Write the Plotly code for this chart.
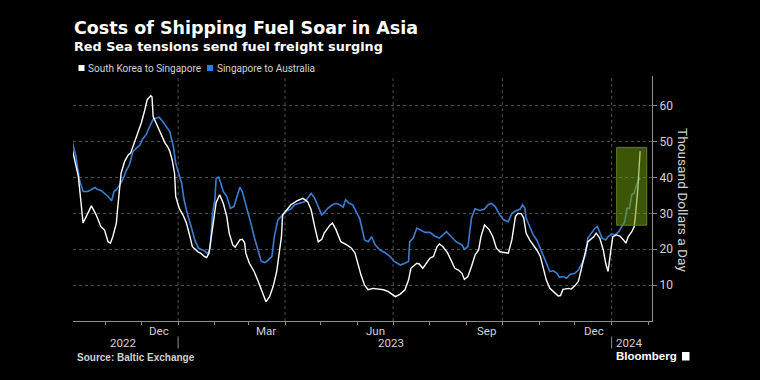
import plotly.graph_objects as go

kor_dates = [
    "2022-10-04", "2022-10-09", "2022-10-11", "2022-10-13", "2022-10-20", "2022-10-24", "2022-10-28", "2022-10-31",
    "2022-11-03", "2022-11-05", "2022-11-07", "2022-11-10", "2022-11-11", "2022-11-14", "2022-11-17", "2022-11-20",
    "2022-11-22", "2022-11-25", "2022-11-28", "2022-12-01", "2022-12-04", "2022-12-06", "2022-12-09", "2022-12-10",
    "2022-12-11", "2022-12-13", "2022-12-15", "2022-12-18", "2022-12-21", "2022-12-23", "2022-12-25", "2022-12-27",
    "2022-12-29", "2022-12-30", "2023-01-02", "2023-01-05", "2023-01-08", "2023-01-11", "2023-01-13", "2023-01-18",
    "2023-01-20", "2023-01-23", "2023-01-25", "2023-01-27", "2023-01-30", "2023-02-02", "2023-02-05", "2023-02-08",
    "2023-02-11", "2023-02-13", "2023-02-16", "2023-02-18", "2023-02-22", "2023-02-24", "2023-02-26", "2023-02-27",
    "2023-03-02", "2023-03-06", "2023-03-09", "2023-03-12", "2023-03-15", "2023-03-16", "2023-03-19", "2023-03-22",
    "2023-03-25", "2023-03-27", "2023-03-29", "2023-03-30", "2023-04-02", "2023-04-06", "2023-04-11", "2023-04-16",
    "2023-04-20", "2023-04-23", "2023-04-26", "2023-04-29", "2023-05-02", "2023-05-04", "2023-05-09", "2023-05-11",
    "2023-05-14", "2023-05-18", "2023-05-23", "2023-05-27", "2023-05-30", "2023-06-02", "2023-06-04", "2023-06-07",
    "2023-06-10", "2023-06-14", "2023-06-18", "2023-06-23", "2023-06-27", "2023-06-30", "2023-07-03", "2023-07-07",
    "2023-07-11", "2023-07-14", "2023-07-16", "2023-07-21", "2023-07-23", "2023-07-26", "2023-07-29", "2023-08-01",
    "2023-08-04", "2023-08-07", "2023-08-09", "2023-08-12", "2023-08-16", "2023-08-19", "2023-08-22", "2023-08-25",
    "2023-08-28", "2023-08-30", "2023-09-02", "2023-09-05", "2023-09-08", "2023-09-11", "2023-09-13", "2023-09-16",
    "2023-09-20", "2023-09-23", "2023-09-26", "2023-09-29", "2023-10-03", "2023-10-06", "2023-10-09", "2023-10-12",
    "2023-10-14", "2023-10-17", "2023-10-19", "2023-10-21", "2023-10-24", "2023-10-27", "2023-10-30", "2023-11-02",
    "2023-11-04", "2023-11-07", "2023-11-10", "2023-11-14", "2023-11-17", "2023-11-19", "2023-11-21", "2023-11-26",
    "2023-11-28", "2023-12-01", "2023-12-04", "2023-12-07", "2023-12-10", "2023-12-12", "2023-12-17", "2023-12-19",
    "2023-12-22", "2023-12-25", "2023-12-27", "2023-12-29", "2023-12-31", "2024-01-02", "2024-01-05", "2024-01-08",
    "2024-01-11", "2024-01-13", "2024-01-15", "2024-01-18", "2024-01-20", "2024-01-21", "2024-01-23", "2024-01-24",
    "2024-01-25",
]
kor_vals = [
    47.7, 40.3, 33.8, 27.3, 32.1, 29.6, 26.3, 25.4,
    22.1, 21.7, 23.5, 27.3, 31.0, 41.2, 44.5, 46.3,
    46.8, 49.6, 51.9, 55.2, 58.9, 61.7, 62.8, 62.5,
    57.0, 55.6, 54.2, 51.9, 49.6, 48.7, 47.3, 44.9,
    41.2, 34.7, 31.4, 29.6, 27.3, 23.5, 20.7, 19.2,
    18.9, 18.0, 17.7, 18.9, 26.0, 33.0, 35.2, 32.8,
    29.1, 24.5, 21.2, 20.6, 22.6, 22.8, 21.8, 18.9,
    16.1, 13.8, 11.4, 8.7, 5.9, 5.4, 6.8, 9.6,
    13.8, 18.0, 23.5, 29.6, 30.8, 32.4, 33.5, 34.2,
    33.3, 31.0, 26.3, 22.1, 22.8, 24.5, 26.8, 27.3,
    25.4, 22.1, 21.2, 20.3, 18.9, 15.2, 12.8, 10.0,
    8.7, 9.1, 8.9, 8.7, 8.2, 7.5, 6.8, 7.5,
    8.7, 11.4, 14.7, 16.1, 15.9, 14.7, 16.1, 17.5,
    18.0, 20.7, 21.5, 20.7, 18.9, 17.0, 14.7, 14.2,
    13.3, 11.6, 12.4, 15.2, 18.4, 19.8, 23.5, 26.8,
    25.4, 23.5, 20.3, 19.3, 19.1, 18.9, 22.6, 29.1,
    30.0, 29.9, 28.7, 24.5, 22.6, 21.2, 19.8, 18.0,
    15.2, 11.4, 9.1, 7.9, 7.0, 7.1, 8.8, 9.1,
    8.9, 9.8, 11.0, 15.2, 19.8, 22.1, 23.5, 24.5,
    23.1, 19.8, 16.1, 13.8, 18.9, 23.5, 24.0, 23.7,
    22.6, 21.7, 23.5, 24.9, 26.3, 29.1, 36.6, 44.0,
    47.3,
]

aus_dates = [
    "2022-10-04", "2022-10-07", "2022-10-10", "2022-10-13", "2022-10-17", "2022-10-20", "2022-10-23", "2022-10-25",
    "2022-10-28", "2022-10-31", "2022-11-03", "2022-11-06", "2022-11-08", "2022-11-10", "2022-11-13", "2022-11-16",
    "2022-11-18", "2022-11-21", "2022-11-24", "2022-11-27", "2022-11-30", "2022-12-02", "2022-12-05", "2022-12-08",
    "2022-12-11", "2022-12-14", "2022-12-16", "2022-12-19", "2022-12-22", "2022-12-25", "2022-12-28", "2022-12-30",
    "2023-01-01", "2023-01-04", "2023-01-06", "2023-01-09", "2023-01-12", "2023-01-15", "2023-01-18", "2023-01-21",
    "2023-01-23", "2023-01-26", "2023-01-28", "2023-01-30", "2023-02-01", "2023-02-02", "2023-02-04", "2023-02-06",
    "2023-02-08", "2023-02-11", "2023-02-14", "2023-02-17", "2023-02-20", "2023-02-22", "2023-02-24", "2023-02-26",
    "2023-03-01", "2023-03-04", "2023-03-06", "2023-03-09", "2023-03-12", "2023-03-15", "2023-03-18", "2023-03-21",
    "2023-03-23", "2023-03-26", "2023-03-29", "2023-04-01", "2023-04-03", "2023-04-06", "2023-04-09", "2023-04-13",
    "2023-04-18", "2023-04-20", "2023-04-23", "2023-04-26", "2023-04-29", "2023-05-02", "2023-05-04", "2023-05-07",
    "2023-05-11", "2023-05-14", "2023-05-17", "2023-05-20", "2023-05-22", "2023-05-25", "2023-05-28", "2023-05-31",
    "2023-06-03", "2023-06-05", "2023-06-07", "2023-06-10", "2023-06-13", "2023-06-16", "2023-06-20", "2023-06-24",
    "2023-06-28", "2023-07-02", "2023-07-07", "2023-07-11", "2023-07-14", "2023-07-15", "2023-07-18", "2023-07-21",
    "2023-07-23", "2023-07-28", "2023-08-01", "2023-08-05", "2023-08-09", "2023-08-12", "2023-08-15", "2023-08-19",
    "2023-08-23", "2023-08-28", "2023-08-30", "2023-09-02", "2023-09-05", "2023-09-08", "2023-09-12", "2023-09-16",
    "2023-09-19", "2023-09-22", "2023-09-25", "2023-09-28", "2023-10-02", "2023-10-06", "2023-10-09", "2023-10-13",
    "2023-10-16", "2023-10-18", "2023-10-20", "2023-10-21", "2023-10-24", "2023-10-27", "2023-10-30", "2023-11-02",
    "2023-11-05", "2023-11-07", "2023-11-10", "2023-11-13", "2023-11-16", "2023-11-18", "2023-11-21", "2023-11-24",
    "2023-11-27", "2023-12-01", "2023-12-04", "2023-12-07", "2023-12-10", "2023-12-12", "2023-12-15", "2023-12-18",
    "2023-12-20", "2023-12-22", "2023-12-24", "2023-12-27", "2023-12-29", "2024-01-01", "2024-01-04", "2024-01-07",
    "2024-01-10", "2024-01-12", "2024-01-14", "2024-01-16", "2024-01-18", "2024-01-20", "2024-01-22", "2024-01-25",
]
aus_vals = [
    49.8, 45.9, 39.3, 36.1, 36.1, 36.6, 37.2, 36.7,
    36.4, 35.6, 34.7, 33.5, 36.1, 36.6, 38.0, 39.8,
    41.7, 43.5, 47.3, 48.2, 49.1, 50.7, 51.9, 54.2,
    56.3, 56.6, 56.8, 55.6, 54.2, 52.8, 48.7, 44.0,
    41.7, 38.4, 33.8, 29.6, 26.3, 22.6, 20.3, 19.8,
    19.6, 18.7, 20.3, 30.0, 33.8, 39.8, 40.1, 38.4,
    36.1, 34.7, 31.4, 31.9, 35.2, 37.3, 36.1, 33.8,
    29.6, 26.3, 23.5, 19.8, 16.6, 16.3, 17.0, 18.0,
    23.5, 28.2, 29.3, 30.2, 30.8, 31.2, 32.4, 32.8,
    33.3, 34.2, 35.6, 34.2, 31.9, 29.6, 30.2, 31.4,
    32.4, 32.8, 32.4, 31.7, 33.8, 32.8, 32.4, 30.5,
    28.5, 25.5, 22.6, 22.1, 23.5, 21.2, 19.8, 19.1,
    18.1, 16.6, 15.6, 16.1, 16.6, 22.1, 23.1, 25.9,
    25.6, 24.7, 24.7, 23.7, 23.1, 24.0, 24.9, 23.5,
    22.1, 21.2, 20.0, 20.7, 28.7, 31.3, 30.8, 31.2,
    32.4, 32.8, 31.9, 30.0, 28.2, 27.7, 30.0, 30.8,
    31.2, 32.4, 31.4, 28.7, 26.5, 24.0, 22.6, 20.3,
    18.0, 16.1, 13.8, 14.0, 13.3, 12.2, 12.4, 11.9,
    13.0, 13.3, 14.2, 16.1, 18.4, 23.1, 24.5, 25.9,
    26.3, 24.9, 23.1, 22.6, 23.5, 24.3, 24.0, 24.9,
    26.8, 27.7, 31.4, 31.4, 35.2, 35.6, 38.0, 40.0,
]

series_names = ["South Korea to Singapore", "Singapore to Australia"]
y_ticks = [10, 20, 30, 40, 50, 60]
month_labels = ["Dec", "Mar", "Jun", "Sep", "Dec"]
month_label_dates = ["2022-12-16", "2023-03-16", "2023-06-16", "2023-09-18", "2023-12-17"]
year_labels = ["2022", "2023", "2024"]
year_label_dates = ["2022-11-16", "2023-06-29", "2024-01-16"]
year_starts = ["2023-01-01", "2024-01-01"]
quarter_starts = ["2023-01-01", "2023-04-01", "2023-07-01", "2023-10-01", "2024-01-01"]
month_ticks = ["2022-11-01", "2022-12-01", "2023-01-01", "2023-02-01", "2023-03-01", "2023-04-01",
               "2023-05-01", "2023-06-01", "2023-07-01", "2023-08-01", "2023-09-01", "2023-10-01",
               "2023-11-01", "2023-12-01", "2024-01-01", "2024-02-01"]
highlight = dict(x0="2024-01-05 06:00", x1="2024-01-30 14:00", y0=26.7, y1=48.4)

WHITE = "#ffffff"
BLUE = "#3c7dd0"
AXIS = "#8c8c8c"
GRID = "#4d4d4d"
TXT = "#d2d2d2"

fig = go.Figure()
fig.add_trace(go.Scatter(x=aus_dates, y=aus_vals, mode="lines", name=series_names[1],
                         line=dict(color=BLUE, width=1.6)))
fig.add_trace(go.Scatter(x=kor_dates, y=kor_vals, mode="lines", name=series_names[0],
                         line=dict(color=WHITE, width=1.4)))

# plot area in pixels: x 73..652, y 76..321
L, R, T, B = 73, 652, 76, 321
W, H = R - L, B - T


def px(xp):
    return (xp - L) / W


def py(yp):
    return (B - yp) / H


shapes = []
for d in quarter_starts:
    shapes.append(dict(type="line", xref="x", yref="paper", x0=d, x1=d, y0=0, y1=1,
                       line=dict(color=GRID, width=1, dash="dot"), layer="below"))
for d in year_starts:
    shapes.append(dict(type="line", xref="x", yref="paper", x0=d, x1=d, y0=py(336.5), y1=py(348.5),
                       line=dict(color=AXIS, width=1)))
shapes.append(dict(type="rect", xref="x", yref="y", layer="above",
                   fillcolor="rgba(112,155,12,0.55)", line=dict(color="#62801c", width=1),
                   **highlight))
# legend squares
shapes.append(dict(type="rect", xref="paper", yref="paper", x0=px(78.5), x1=px(84.5), y0=py(71), y1=py(65),
                   fillcolor=WHITE, line=dict(width=0)))
shapes.append(dict(type="rect", xref="paper", yref="paper", x0=px(207), x1=px(213), y0=py(71), y1=py(65),
                   fillcolor="#2b7de9", line=dict(width=0)))
# Bloomberg mark
shapes.append(dict(type="rect", xref="paper", yref="paper", x0=px(682), x1=px(689.5), y0=py(360.5), y1=py(352),
                   fillcolor=WHITE, line=dict(width=0)))

ann = []
ann.append(dict(text="<b>Costs of Shipping Fuel Soar in Asia</b>", x=px(72), y=py(28.5), xanchor="left",
                yanchor="middle", font=dict(family="DejaVu Sans", size=17.5, color=WHITE)))
ann.append(dict(text="<b>Red Sea tensions send fuel freight surging</b>", x=px(72), y=py(46.5), xanchor="left",
                yanchor="middle", font=dict(family="DejaVu Sans", size=12.8, color=WHITE)))
ann.append(dict(text=series_names[0], x=px(86), y=py(68), xanchor="left", yanchor="middle",
                font=dict(family="Roboto", size=10, color=TXT)))
ann.append(dict(text=series_names[1], x=px(215), y=py(68), xanchor="left", yanchor="middle",
                font=dict(family="Roboto", size=10, color=TXT)))
ann.append(dict(text="Thousand Dollars a Day", textangle=90, x=px(683), y=py(200), xanchor="center",
                yanchor="middle", font=dict(family="Roboto", size=13.7, color=TXT)))
for lab, d in zip(month_labels, month_label_dates):
    ann.append(dict(text=lab, x=d, xref="x", y=py(330.5), yanchor="middle", xanchor="center",
                    font=dict(family="Roboto", size=11.5, color=TXT)))
for lab, d in zip(year_labels, year_label_dates):
    ann.append(dict(text=lab, x=d, xref="x", y=py(342.5), yanchor="middle", xanchor="center",
                    font=dict(family="Roboto", size=11.5, color=TXT)))
ann.append(dict(text="<b>Source: Baltic Exchange</b>", x=px(75), y=py(357), xanchor="left", yanchor="middle",
                font=dict(family="Liberation Sans", size=10, color=TXT)))
ann.append(dict(text="<b>Bloomberg</b>", x=px(614), y=py(356), xanchor="left", yanchor="middle",
                font=dict(family="Liberation Sans", size=11.5, color=WHITE)))
for a in ann:
    a.setdefault("xref", "paper")
    a["yref"] = "paper"
    a["showarrow"] = False

fig.update_layout(
    width=760, height=380,
    paper_bgcolor="black", plot_bgcolor="black",
    margin=dict(l=L, r=760 - R, t=T, b=380 - B),
    showlegend=False,
    shapes=shapes, annotations=ann,
    xaxis=dict(type="date", range=["2022-10-04 12:00", "2024-02-04"], showgrid=False, zeroline=False,
               showline=True, linecolor=AXIS, linewidth=1, ticks="outside", ticklen=3, tickcolor=AXIS,
               tickvals=month_ticks, showticklabels=False),
    yaxis=dict(side="right", range=[0, 68.3], tickvals=y_ticks, ticktext=[str(v) for v in y_ticks],
               showgrid=True, gridcolor=GRID, griddash="dot", gridwidth=1, zeroline=False,
               showline=True, linecolor=AXIS, linewidth=1, ticks="outside", ticklen=4, tickcolor=AXIS,
               tickfont=dict(family="Roboto", size=12, color=TXT)),
)

fig.write_html("out.html", config={"displayModeBar": False},
               post_script="document.body.style.margin='0';document.body.style.background='black';"
                           "document.documentElement.style.background='black';")
